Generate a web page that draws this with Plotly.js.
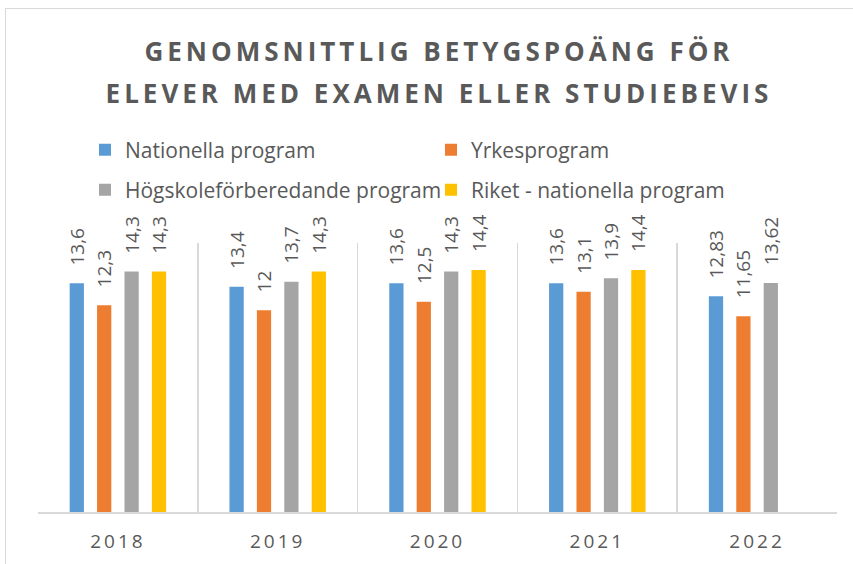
<!DOCTYPE html>
<html>
<head>
<meta charset="utf-8">
<script src="https://cdn.plot.ly/plotly-3.0.1.min.js"></script>
<style>
  html, body { margin: 0; padding: 0; background: #ffffff; }
  #wrap { position: relative; width: 853px; height: 564px; overflow: hidden; }
  #chart { width: 853px; height: 564px; }
  #frame { position: absolute; left: 5px; top: 8px; width: 860px; height: 600px;
           border-left: 1.5px solid #D9D9D9; border-top: 1.5px solid #D9D9D9; pointer-events: none; }
  .gtitle { letter-spacing: 4px; }
  .xtick text { letter-spacing: 3px; }
</style>
</head>
<body>
<div id="wrap">
  <div id="chart"></div>
  <div id="frame"></div>
</div>
<script>
const years = ['2018', '2019', '2020', '2021', '2022'];
const seriesNames = ['Nationella program', 'Yrkesprogram', 'Högskoleförberedande program', 'Riket - nationella program'];
const nationella = [13.6, 13.4, 13.6, 13.6, 12.83];
const yrkes = [12.3, 12, 12.5, 13.1, 11.65];
const hogskole = [14.3, 13.7, 14.3, 13.9, 13.62];
const riket = [14.3, 14.3, 14.4, 14.4, null];
const colors = ['#5B9BD5', '#ED7D31', '#A5A5A5', '#FFC000'];
const titleLines = ['GENOMSNITTLIG BETYGSPOÄNG FÖR', 'ELEVER MED EXAMEN ELLER STUDIEBEVIS'];

const allSeries = [nationella, yrkes, hogskole, riket];
const pad = '\u00a0\u00a0\u00a0';
const fmt = v => (v === null ? '' : pad + String(v).replace('.', ','));

const traces = allSeries.map((vals, i) => ({
  type: 'bar',
  name: seriesNames[i],
  x: years,
  y: vals,
  marker: { color: colors[i] },
  text: vals.map(fmt),
  textposition: 'outside',
  textangle: -90,
  constraintext: 'none',
  cliponaxis: false,
  textfont: { family: 'Open Sans, sans-serif', size: 19, color: '#595959' },
  hoverinfo: 'none',
  legend: i < 2 ? 'legend' : 'legend2'
}));

const legendCommon = {
  orientation: 'h',
  xref: 'container', yref: 'container',
  xanchor: 'left', yanchor: 'middle',
  entrywidth: 301, entrywidthmode: 'pixels',
  font: { family: 'Open Sans, sans-serif', size: 21, color: '#595959' },
  bgcolor: 'rgba(0,0,0,0)',
  itemclick: false, itemdoubleclick: false
};

const layout = {
  width: 853, height: 564,
  paper_bgcolor: '#ffffff', plot_bgcolor: '#ffffff',
  margin: { l: 38, r: 16, t: 243, b: 52 },
  title: {
    text: titleLines.map(s => '<span style="font-size:26px">' + s + '</span>').join('<br>'),
    font: { family: 'Open Sans, sans-serif', size: 32, color: '#595959', weight: 'bold' },
    x: 439 / 853, xanchor: 'center',
    y: 1 - 61 / 564, yanchor: 'top', yref: 'container'
  },
  barmode: 'group',
  bargap: 0.314,
  bargroupgap: 0.48,
  showlegend: true,
  legend: Object.assign({}, legendCommon, { x: 85 / 853, y: 1 - 150 / 564 }),
  legend2: Object.assign({}, legendCommon, { x: 85 / 853, y: 1 - 190 / 564 }),
  xaxis: {
    type: 'category',
    tickson: 'boundaries',
    showgrid: true, gridcolor: '#D9D9D9', gridwidth: 1.5,
    showline: true, linecolor: '#D9D9D9', linewidth: 1.5,
    ticks: '', ticklabelstandoff: 12,
    tickfont: { family: 'Open Sans, sans-serif', size: 19, color: '#595959' },
    fixedrange: true
  },
  yaxis: {
    range: [0, 16],
    showgrid: false, showticklabels: false, zeroline: false, showline: false,
    ticks: '', fixedrange: true
  }
};

Plotly.newPlot('chart', traces, layout, { displayModeBar: false, staticPlot: true });
</script>
</body>
</html>
